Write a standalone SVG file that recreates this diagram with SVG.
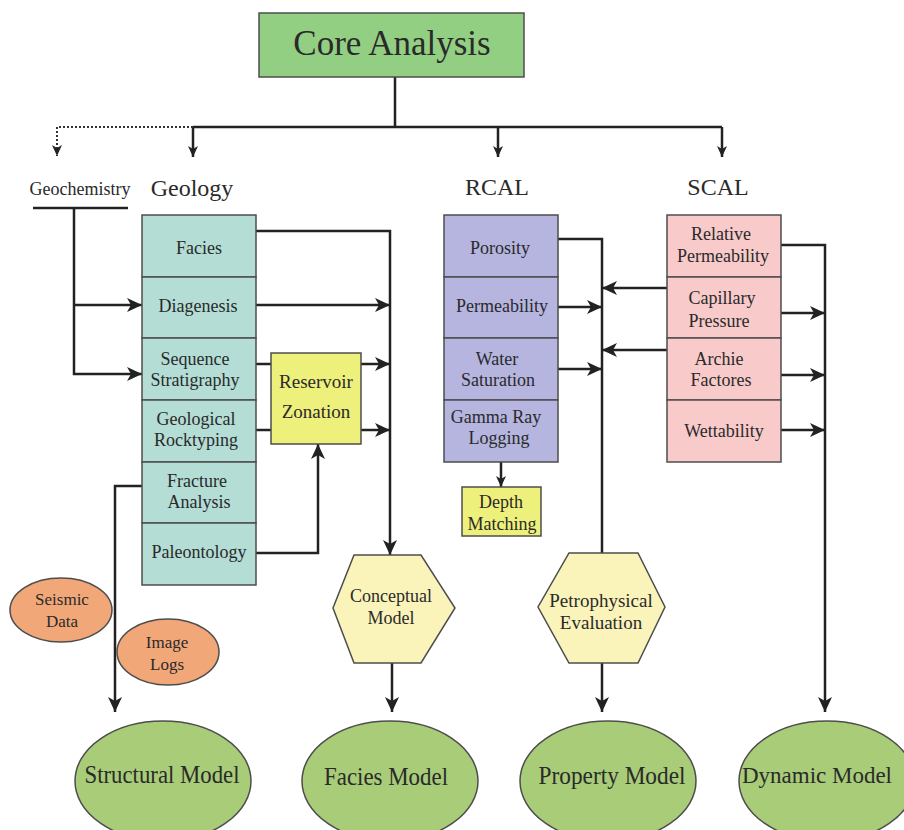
<svg xmlns="http://www.w3.org/2000/svg" width="904" height="830" viewBox="0 0 904 830">
<style>
text{font-family:"Liberation Serif","Times New Roman",serif;fill:#2a2a2a;text-anchor:middle}
.box{stroke:#4d4d4d;stroke-width:1.5}
.geo{fill:#b3ddd5}.rcal{fill:#b5b5e0}.scal{fill:#f8caca}.yel{fill:#eef07c}
.hex{fill:#faf4ba;stroke:#4d4d4d;stroke-width:1.5}
.org{fill:#f2a779;stroke:#4d4d4d;stroke-width:1.5}
.mod{fill:#a8cc78;stroke:#4d4d4d;stroke-width:1.5}
.ln{fill:none;stroke:#222;stroke-width:2.5}
.t18{font-size:18px}
.big{font-size:26px}
</style>
<defs>
<marker id="ah" markerUnits="userSpaceOnUse" markerWidth="16" markerHeight="14" viewBox="0 0 16 14" refX="15" refY="7" orient="auto">
<path d="M0,0 L15,7 L0,14 L4,7 z" fill="#222"/>
</marker>
<marker id="ahs" markerUnits="userSpaceOnUse" markerWidth="12" markerHeight="10" viewBox="0 0 12 10" refX="11" refY="5" orient="auto">
<path d="M0,0 L11,5 L0,10 L3,5 z" fill="#222"/>
</marker>
</defs>

<g id="connectors">
<path class="ln" d="M395,77 V127"/>
<path class="ln" d="M193,127 H722"/>
<path class="ln" d="M193,127 V157" marker-end="url(#ahs)"/>
<path class="ln" d="M498,127 V157" marker-end="url(#ahs)"/>
<path class="ln" d="M722,127 V157" marker-end="url(#ahs)"/>
<path d="M193,127 H57 V156" fill="none" stroke="#333" stroke-width="2" stroke-dasharray="2,2" marker-end="url(#ahs)"/>
<path class="ln" d="M33,208 H128" stroke-width="2"/>
<path class="ln" d="M74,208 V374 H142" marker-end="url(#ah)"/>
<path class="ln" d="M74,305 H142" marker-end="url(#ah)"/>
<path class="ln" d="M256,231 H390 V555" marker-end="url(#ah)"/>
<path class="ln" d="M256,305 H390" marker-end="url(#ah)"/>
<path class="ln" d="M256,364 H271"/>
<path class="ln" d="M361,364 H390" marker-end="url(#ah)"/>
<path class="ln" d="M256,430 H271"/>
<path class="ln" d="M361,430 H390" marker-end="url(#ah)"/>
<path class="ln" d="M256,553 H318 V444" marker-end="url(#ah)"/>
<path class="ln" d="M142,486 H115 V712" marker-end="url(#ah)"/>
<path class="ln" d="M392,663 V712" marker-end="url(#ah)"/>
<path class="ln" d="M558,239 H602 V553"/>
<path class="ln" d="M558,307 H602" marker-end="url(#ah)"/>
<path class="ln" d="M558,369 H602" marker-end="url(#ah)"/>
<path class="ln" d="M501,462 V487" marker-end="url(#ahs)"/>
<path class="ln" d="M667,288 H602" marker-end="url(#ah)"/>
<path class="ln" d="M667,350 H602" marker-end="url(#ah)"/>
<path class="ln" d="M781,245 H825 V712" marker-end="url(#ah)"/>
<path class="ln" d="M781,313 H825" marker-end="url(#ah)"/>
<path class="ln" d="M781,375 H825" marker-end="url(#ah)"/>
<path class="ln" d="M781,430 H825" marker-end="url(#ah)"/>
<path class="ln" d="M602,663 V712" marker-end="url(#ah)"/>
</g>

<g id="core-analysis">
<rect x="259" y="13" width="265" height="64" fill="#93cf83" class="box"/>
<text x="392" y="55" font-size="35">Core Analysis</text>
</g>

<g id="geochemistry"><text x="80" y="195" class="t18">Geochemistry</text></g>
<g id="geology-label"><text x="192" y="196" font-size="24">Geology</text></g>
<g id="rcal-label"><text x="497" y="195" font-size="24">RCAL</text></g>
<g id="scal-label"><text x="718" y="195" font-size="24">SCAL</text></g>

<g id="geology">
<rect x="142" y="215" width="114" height="62" class="box geo"/>
<rect x="142" y="277" width="114" height="61" class="box geo"/>
<rect x="142" y="338" width="114" height="62" class="box geo"/>
<rect x="142" y="400" width="114" height="62" class="box geo"/>
<rect x="142" y="462" width="114" height="61" class="box geo"/>
<rect x="142" y="523" width="114" height="62" class="box geo"/>
<text x="199" y="254" class="t18">Facies</text>
<text x="198" y="312" class="t18">Diagenesis</text>
<text x="195" y="365" class="t18">Sequence</text>
<text x="195" y="386" class="t18">Stratigraphy</text>
<text x="196" y="425" class="t18">Geological</text>
<text x="196" y="446" class="t18">Rocktyping</text>
<text x="197" y="487" class="t18">Fracture</text>
<text x="199" y="508" class="t18">Analysis</text>
<text x="199" y="558" class="t18">Paleontology</text>
</g>

<g id="reservoir-zonation">
<rect x="271" y="353" width="90" height="91" class="box yel"/>
<text x="316" y="388" font-size="19">Reservoir</text>
<text x="316" y="418" font-size="19">Zonation</text>
</g>

<g id="rcal">
<rect x="444" y="215" width="114" height="62" class="box rcal"/>
<rect x="444" y="277" width="114" height="61" class="box rcal"/>
<rect x="444" y="338" width="114" height="62" class="box rcal"/>
<rect x="444" y="400" width="114" height="62" class="box rcal"/>
<text x="500" y="254" class="t18">Porosity</text>
<text x="502" y="312" class="t18">Permeability</text>
<text x="497" y="365" class="t18">Water</text>
<text x="498" y="386" class="t18">Saturation</text>
<text x="496" y="423" class="t18">Gamma Ray</text>
<text x="499" y="444" class="t18">Logging</text>
</g>

<g id="depth-matching">
<rect x="462" y="487" width="79" height="49" class="box yel"/>
<text x="501" y="508" class="t18">Depth</text>
<text x="502" y="530" class="t18">Matching</text>
</g>

<g id="scal">
<rect x="667" y="215" width="114" height="62" class="box scal"/>
<rect x="667" y="277" width="114" height="61" class="box scal"/>
<rect x="667" y="338" width="114" height="62" class="box scal"/>
<rect x="667" y="400" width="114" height="62" class="box scal"/>
<text x="721" y="240" class="t18">Relative</text>
<text x="723" y="262" class="t18">Permeability</text>
<text x="722" y="304" class="t18">Capillary</text>
<text x="719" y="327" class="t18">Pressure</text>
<text x="719" y="365" class="t18">Archie</text>
<text x="721" y="386" class="t18">Factores</text>
<text x="724" y="437" class="t18">Wettability</text>
</g>

<g id="conceptual-model">
<polygon class="hex" points="354,555 421,555 455,608 421,663 354,663 333,608"/>
<text x="391" y="602" class="t18">Conceptual</text>
<text x="391" y="624" class="t18">Model</text>
</g>

<g id="petrophysical-evaluation">
<polygon class="hex" points="569,553 638,553 665,607 638,663 569,663 538,607"/>
<text x="601" y="607" font-size="19">Petrophysical</text>
<text x="601" y="629" font-size="19">Evaluation</text>
</g>

<g id="seismic-data">
<ellipse cx="61" cy="610" rx="51" ry="32" class="org"/>
<text x="62" y="605" font-size="17">Seismic</text>
<text x="62" y="627" font-size="17">Data</text>
</g>

<g id="image-logs">
<ellipse cx="168" cy="652" rx="51" ry="33" class="org"/>
<text x="167" y="648" font-size="17">Image</text>
<text x="167" y="670" font-size="17">Logs</text>
</g>

<g id="structural-model">
<ellipse cx="163" cy="781" rx="88" ry="60" class="mod"/>
<text x="162" y="783" class="big" textLength="155" lengthAdjust="spacingAndGlyphs">Structural Model</text>
</g>
<g id="facies-model">
<ellipse cx="390" cy="781" rx="88" ry="60" class="mod"/>
<text x="386" y="785" class="big" textLength="124" lengthAdjust="spacingAndGlyphs">Facies Model</text>
</g>
<g id="property-model">
<ellipse cx="608" cy="781" rx="88" ry="60" class="mod"/>
<text x="612" y="784" class="big" textLength="147" lengthAdjust="spacingAndGlyphs">Property Model</text>
</g>
<g id="dynamic-model">
<ellipse cx="827" cy="781" rx="88" ry="60" class="mod"/>
<text x="817" y="783" font-size="24" textLength="150" lengthAdjust="spacingAndGlyphs">Dynamic Model</text>
</g>
</svg>
